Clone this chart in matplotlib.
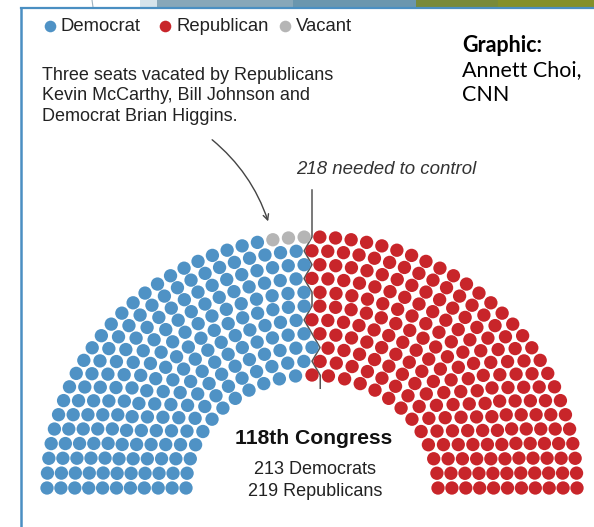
import numpy as np
import matplotlib.pyplot as plt
from matplotlib.patches import Rectangle

# House seats, 118th Congress
parties = ["Democrat", "Republican", "Vacant"]
seat_counts = [213, 219, 3]
party_colors = ["#4f92c5", "#c8252a", "#b5b5b5"]
n_rings = 11
majority = 218

summary_lines = ["213 Democrats", "219 Republicans"]
note_text = "Three seats vacated by Republicans\nKevin McCarthy, Bill Johnson and\nDemocrat Brian Higgins."

W, H = 594, 527
fig = plt.figure(figsize=(W / 100, H / 100), dpi=100)
ax = fig.add_axes([0, 0, 1, 1])
ax.set_xlim(0, W)
ax.set_ylim(H, 0)
ax.axis("off")

# slide decoration at top + frame
banner = [(0, 140, "#ffffff"), (140, 157, "#d5e3eb"), (157, 293, "#87a7b9"),
          (293, 416, "#6a96ae"), (416, 498, "#788a3a"), (498, 594, "#84902a")]
for x0, x1, c in banner:
    ax.add_patch(Rectangle((x0, 0), x1 - x0, 7, color=c, lw=0))
ax.plot([92, 93], [0, 7], color="#9fb3c0", lw=0.8)
ax.plot([21, W], [7.5, 7.5], color="#4a8fc2", lw=1.6)
ax.plot([21, 21], [7.5, H], color="#4a8fc2", lw=1.8)

# seat geometry
cx, cy = 312, 488
rx = np.linspace(126, 265, n_rings)
ry = np.linspace(113, 251, n_rings)
total = sum(seat_counts)
weights = rx + ry
per_ring = np.floor(total * weights / weights.sum()).astype(int)
rest = total - per_ring.sum()
order = np.argsort(-(total * weights / weights.sum() - per_ring))
per_ring[order[:rest]] += 1

ring_id, ang = [], []
for i, n in enumerate(per_ring):
    a = np.linspace(np.pi, 0, n)
    ring_id += [i] * n
    ang += list(a)
ring_id = np.array(ring_id)
ang = np.array(ang)
xs = cx + rx[ring_id] * np.cos(ang)
ys = cy - ry[ring_id] * np.sin(ang)

# fill left to right by angle
idx = np.lexsort((ring_id, -ang))
left = idx[:majority - 1]
right = idx[majority - 1:]
party = np.zeros(total, dtype=int)
party[right] = 1
outer_left = [k for k in left if ring_id[k] == n_rings - 1]
outer_left = sorted(outer_left, key=lambda k: -ang[k])
for k in outer_left[-seat_counts[2]:]:
    party[k] = 2
inner_left = sorted([k for k in left if ring_id[k] == 0], key=lambda k: -ang[k])
party[inner_left[-1]] = 1

ax.scatter(xs, ys, s=92, c=[party_colors[p] for p in party], lw=0, zorder=3)

# majority divider line
bx, by = [], []
for i in range(n_rings):
    li = [k for k in left if ring_id[k] == i]
    ri = [k for k in right if ring_id[k] == i]
    a = (min(ang[li]) + max(ang[ri])) / 2
    bx.append(cx + rx[i] * np.cos(a))
    by.append(cy - ry[i] * np.sin(a))
bx = [bx[0]] + bx + [bx[-1]]
by = [by[0] + 13] + by + [190]
ax.plot(bx, by, color="#555555", lw=1.1, zorder=2)

# legend
lx = [50, 165, 285]
for x, name, c in zip(lx, parties, party_colors):
    ax.scatter([x], [26], s=70, color=c, lw=0)
    ax.text(x + 11, 31, name, fontsize=13.3, family="Liberation Sans",
            color="#222222", va="baseline", ha="left")

ax.text(42, 96, note_text, fontsize=13, family="Liberation Sans",
        color="#222222", va="center", ha="left", linespacing=1.27)

ax.annotate("", xy=(269, 224), xytext=(210, 138),
            arrowprops=dict(arrowstyle="->", color="#444444", lw=1.0,
                            connectionstyle="arc3,rad=-0.15"))

ax.text(296, 170, "218 needed to control", fontsize=13.4, family="Liberation Sans",
        style="italic", color="#333333", va="center", ha="left")

ax.text(462, 45, "Graphic:", fontsize=15.5, family="Lato", weight="bold",
        va="center", ha="left", color="black")
ax.text(462, 70, "Annett Choi,", fontsize=15.5, family="Lato",
        va="center", ha="left", color="black")
ax.text(462, 95, "CNN", fontsize=15.5, family="Lato",
        va="center", ha="left", color="black")

ax.text(cx + 2, 439, "118th Congress", fontsize=15.2, family="Liberation Sans",
        weight="bold", va="center", ha="center", color="#111111")
ax.text(cx + 3, 470, summary_lines[0], fontsize=13, family="Liberation Sans",
        va="center", ha="center", color="#222222")
ax.text(cx + 3, 492, summary_lines[1], fontsize=13, family="Liberation Sans",
        va="center", ha="center", color="#222222")

fig.savefig("out.png", dpi=100)
